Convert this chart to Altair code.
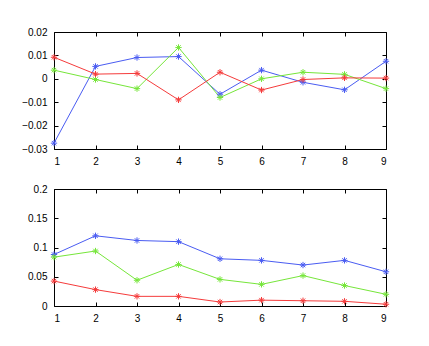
import altair as alt
import pandas as pd

xs = [1, 2, 3, 4, 5, 6, 7, 8, 9]
series_names = ["blue", "green", "red"]
colors = ["#4a5cf2", "#76e63a", "#f53b3b"]

top_blue = [-0.0275, 0.0053, 0.0091, 0.0095, -0.0066, 0.0037, -0.0015, -0.0047, 0.0075]
top_green = [0.0037, -0.0003, -0.0042, 0.0134, -0.0080, 0.0000, 0.0028, 0.0019, -0.0042]
top_red = [0.0092, 0.0020, 0.0023, -0.0090, 0.0028, -0.0048, -0.0003, 0.0004, 0.0003]

bot_blue = [0.088, 0.120, 0.112, 0.110, 0.0807, 0.078, 0.070, 0.078, 0.0585]
bot_green = [0.0835, 0.094, 0.044, 0.071, 0.0455, 0.037, 0.052, 0.035, 0.020]
bot_red = [0.0426, 0.028, 0.0165, 0.0165, 0.0068, 0.010, 0.009, 0.008, 0.003]

top_ticks = [-0.03, -0.02, -0.01, 0, 0.01, 0.02]
bot_ticks = [0, 0.05, 0.1, 0.15, 0.2]


def make_df(b, g, r):
    rows = []
    for name, vals in zip(series_names, [b, g, r]):
        for x, v in zip(xs, vals):
            rows.append({"x": x, "y": v, "s": name})
    return pd.DataFrame(rows)


ASTER = "M-1,0L1,0M0,-1L0,1M-0.7,-0.7L0.7,0.7M-0.7,0.7L0.7,-0.7"
TL = 4


def panel(df, ydomain, yticks):
    xscale = alt.Scale(domain=[1, 9], nice=False, zero=False)
    yscale = alt.Scale(domain=ydomain, nice=False, zero=False)
    color = alt.Color("s:N", scale=alt.Scale(domain=series_names, range=colors), legend=None)
    xax = alt.Axis(values=xs, format="d", grid=False, domain=False, offset=-TL, tickSize=TL,
                   labelPadding=TL + 3, tickColor="black", title=None)
    yax = alt.Axis(values=yticks, format="~g", grid=False, domain=False, offset=-TL, tickSize=TL,
                   labelPadding=TL + 3, tickColor="black", title=None)
    lines = alt.Chart(df).mark_line(strokeWidth=1).encode(
        x=alt.X("x:Q", scale=xscale, axis=xax),
        y=alt.Y("y:Q", scale=yscale, axis=yax),
        color=color,
        detail="s:N",
    )
    pts = alt.Chart(df).mark_point(shape=ASTER, size=40, filled=False, strokeWidth=1, opacity=1).encode(
        x=alt.X("x:Q", scale=xscale, axis=None),
        y=alt.Y("y:Q", scale=yscale, axis=None),
        color=color,
    )
    xax2 = alt.Axis(values=xs, orient="top", labels=False, grid=False, domain=False, offset=-TL,
                    tickSize=TL, tickColor="black", title=None)
    yax2 = alt.Axis(values=yticks, orient="right", labels=False, grid=False, domain=False, offset=-TL,
                    tickSize=TL, tickColor="black", title=None)
    ghost = alt.Chart(df).mark_point(opacity=0).encode(
        x=alt.X("x:Q", scale=xscale, axis=xax2),
        y=alt.Y("y:Q", scale=yscale, axis=yax2),
    )
    return alt.layer(lines, pts, ghost).resolve_axis(x="independent", y="independent").properties(
        width=332, height=117
    )


top = panel(make_df(top_blue, top_green, top_red), [-0.03, 0.02], top_ticks)
bot = panel(make_df(bot_blue, bot_green, bot_red), [0, 0.2], bot_ticks)

chart = alt.vconcat(top, bot, spacing=16).properties(
    padding={"left": 13, "top": 18, "right": 5, "bottom": 5},
    background="white",
).configure_view(stroke="black", strokeWidth=1).configure_axis(
    labelFont="Liberation Sans", labelFontSize=10, labelColor="black"
)

chart.save("out.html", embed_options={"renderer": "svg", "actions": False})
